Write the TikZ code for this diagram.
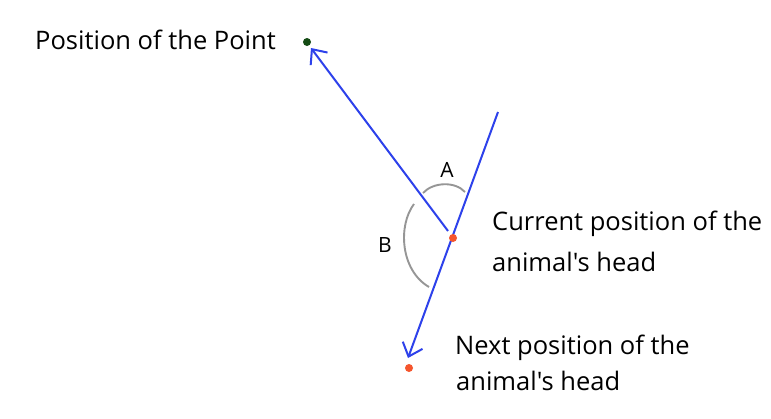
\documentclass[tikz,border=0pt]{standalone}
\usepackage{fontspec}
\newfontfamily\labelfont{Open Sans}
\usetikzlibrary{arrows.meta}
\definecolor{vecblue}{RGB}{45,65,235}
\definecolor{dotred}{RGB}{245,85,45}
\definecolor{dotgreen}{RGB}{20,75,20}
\definecolor{arcgray}{RGB}{150,150,150}
\tikzset{
  vec/.style={vecblue, line width=2pt},
  vecarrow/.style={vec, -{Straight Barb[length=12pt,width=21pt,line width=2pt]}},
  anglearc/.style={arcgray, line width=1.9pt},
  lbl/.style={font=\labelfont\fontsize{25.5}{30}\selectfont, anchor=base west, inner sep=0pt},
  anglelbl/.style={font=\labelfont\fontsize{21}{24}\selectfont, anchor=base, inner sep=0pt},
  dot/.style={circle, fill=#1, inner sep=0pt, minimum size=8pt}
}
\begin{document}
\begin{tikzpicture}[x=1pt,y=-1pt]
\useasboundingbox (0,0) rectangle (771,418);
\fill[white] (0,0) rectangle (771,418);
% coordinates
\coordinate (top) at (498,112);
\coordinate (cross) at (448,231);
\coordinate (tipP) at (311,48);
\coordinate (tipN) at (408,358);
% lines
\draw[vecarrow] (cross) -- (tipP);
\draw[vecarrow] (top) -- (tipN);
% angle arcs
\coordinate (a1) at (423,193);
\coordinate (a2) at (465,192);
\coordinate (b1) at (414,204);
\coordinate (b2) at (429,287);
\draw[anglearc] (a1) .. controls (433,182) and (455,181) .. (a2);
\draw[anglearc] (b1) .. controls (398,225) and (400,270) .. (b2);
% dots
\node[dot=dotgreen] (point) at (307,42) {};
\node[dot=dotred] (cur) at (453,238) {};
\node[dot=dotred] (next) at (409,368) {};
% labels
\node[lbl] (lp) at (35,49) {Position of the Point};
\node[anglelbl] (la) at (447,177) {A};
\node[anglelbl] (lb) at (385,252) {B};
\node[lbl] (lc1) at (492,230) {Current position of the};
\node[lbl] (lc2) at (492,271) {animal's head};
\node[lbl] (ln1) at (455,354) {Next position of the};
\node[lbl] (ln2) at (456,390) {animal's head};
\end{tikzpicture}
\end{document}
